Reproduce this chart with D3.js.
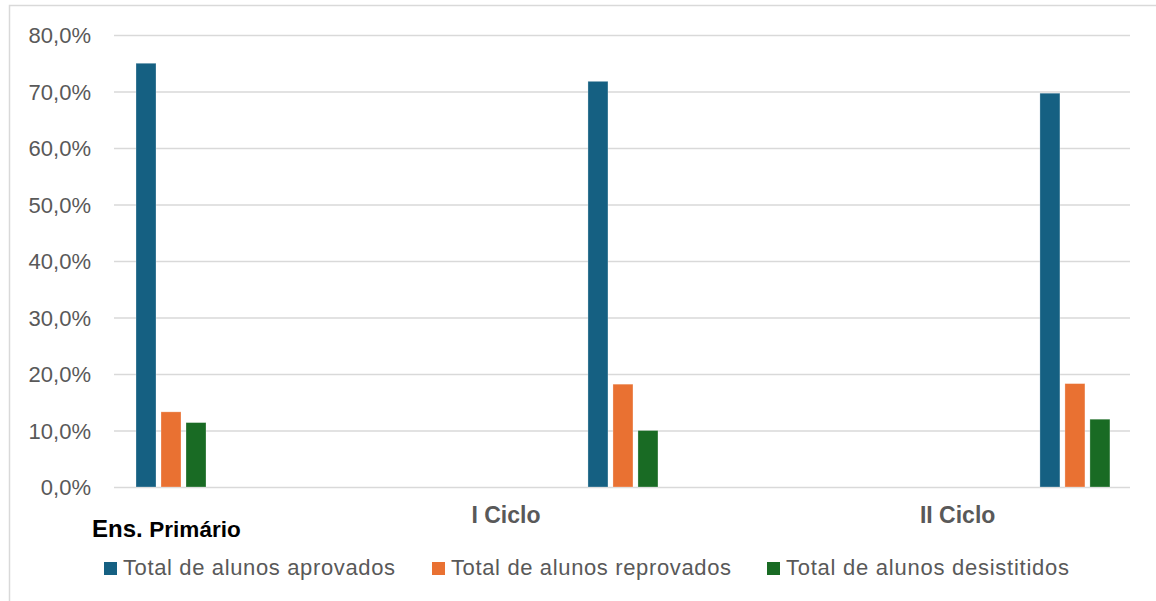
<!DOCTYPE html>
<html>
<head>
<meta charset="utf-8">
<script src="https://cdn.jsdelivr.net/npm/d3@7"></script>
<style>
  html, body { margin: 0; padding: 0; background: #ffffff; }
  svg { display: block; }
</style>
</head>
<body>
<svg id="chart" width="1156" height="601"></svg>
<script>
// Categories, series and values (percentages)
const categories = ["Ens. Primário", "I Ciclo", "II Ciclo"];
const seriesNames = ["Total de alunos aprovados", "Total de alunos reprovados", "Total de alunos desistitidos"];
const aprovados = [75.0, 71.8, 69.7];
const reprovados = [13.3, 18.2, 18.3];
const desistidos = [11.4, 10.0, 12.0];
const yTicks = [0, 10, 20, 30, 40, 50, 60, 70, 80];

const seriesValues = [aprovados, reprovados, desistidos];
const colors = ["#156082", "#E97132", "#196B24"];

const svg = d3.select("#chart");
const W = 1156, H = 601;
const plot = { left: 114, right: 1130, top: 35, bottom: 487 };
const font = "'Liberation Sans', Arial, sans-serif";
const grey = "#595959";

// Chart area border
svg.append("rect")
  .attr("x", 9.5).attr("y", 5.5)
  .attr("width", W + 20).attr("height", H + 20)
  .attr("fill", "#ffffff")
  .attr("stroke", "#d9d9d9").attr("stroke-width", 1.5);

const y = d3.scaleLinear().domain([0, 80]).range([plot.bottom, plot.top]);
const x = d3.scaleBand().domain(categories).range([plot.left, plot.right]).padding(0);

const ptLocale = d3.formatLocale({ decimal: ",", thousands: ".", grouping: [3], currency: ["", "€"] });
const fmt = ptLocale.format(".1f");

// Y axis with gridlines
const yAxis = d3.axisLeft(y)
  .tickValues(yTicks)
  .tickSize(-(plot.right - plot.left))
  .tickPadding(23)
  .tickFormat(d => fmt(d) + "%");

const gy = svg.append("g")
  .attr("transform", `translate(${plot.left},0)`)
  .call(yAxis);
gy.select(".domain").remove();
gy.selectAll(".tick line").attr("stroke", "#d9d9d9").attr("stroke-width", 1.5);
gy.selectAll(".tick text")
  .attr("fill", grey)
  .style("font-family", font)
  .style("font-size", "22px")
  .attr("dy", "0.35em");

// Bars: each category's cluster sits at its own offset inside the band
const barW = 20, barStep = 25;
const clusterOffset = i => 22 + i * 113.3;

const rows = [];
categories.forEach((c, ci) => {
  seriesValues.forEach((vals, si) => {
    rows.push({ cat: c, ci, si, value: vals[ci] });
  });
});

svg.append("g").selectAll("rect")
  .data(rows)
  .join("rect")
  .attr("x", d => x(d.cat) + clusterOffset(d.ci) + d.si * barStep)
  .attr("y", d => y(d.value))
  .attr("width", barW)
  .attr("height", d => y(0) - y(d.value))
  .attr("fill", d => colors[d.si])
  .attr("stroke", "#ffffff")
  .attr("stroke-opacity", 0.35)
  .attr("stroke-width", 0.8);

// Category labels
const catLabels = svg.append("g");
const first = catLabels.append("text")
  .attr("x", 92).attr("y", 537)
  .attr("fill", "#000000")
  .style("font-family", font)
  .style("font-weight", "bold");
const parts = categories[0].split(" ");
first.append("tspan").style("font-size", "24px").text(parts[0] + " ");
first.append("tspan").style("font-size", "22.5px").text(parts.slice(1).join(" "));

[1, 2].forEach(i => {
  const cx = i === 1 ? x(categories[i]) + x.bandwidth() / 2 - 116 : x(categories[i]) + x.bandwidth() / 2 - 3;
  catLabels.append("text")
    .attr("x", cx).attr("y", 523)
    .attr("text-anchor", "middle")
    .attr("fill", grey)
    .style("font-family", font)
    .style("font-weight", "bold")
    .style("font-size", "23px")
    .text(categories[i]);
});

// Legend
const legendX = [104, 432, 767];
const legendTextW = [272, 280, 283];
const legend = svg.append("g");
seriesNames.forEach((name, i) => {
  legend.append("rect")
    .attr("x", legendX[i]).attr("y", 562)
    .attr("width", 13).attr("height", 13)
    .attr("fill", colors[i]);
  legend.append("text")
    .attr("x", legendX[i] + 19).attr("y", 575)
    .attr("fill", grey)
    .attr("textLength", legendTextW[i])
    .attr("lengthAdjust", "spacing")
    .style("font-family", font)
    .style("font-size", "22px")
    .text(name);
});
</script>
</body>
</html>
